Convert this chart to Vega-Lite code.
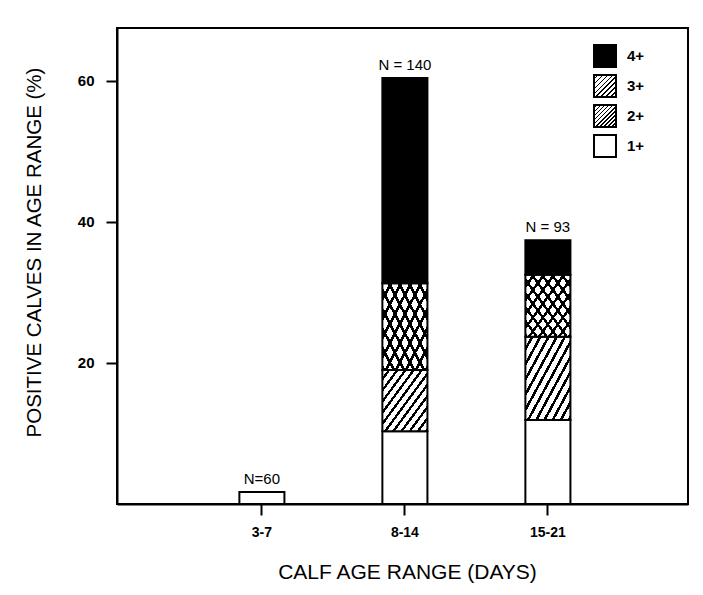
{
  "$schema": "https://vega.github.io/schema/vega-lite/v6.json",
  "autosize": "none",
  "width": 571,
  "height": 476,
  "padding": {"left": 117, "top": 28, "right": 15, "bottom": 91},
  "background": "white",
  "config": {
    "font": "Liberation Sans",
    "view": {"stroke": "black", "strokeWidth": 2},
    "axis": {"grid": false, "domainColor": "black", "domainWidth": 2, "tickColor": "black", "tickWidth": 2, "labelColor": "black", "titleColor": "black"}
  },
  "data": {
    "values": [
      {"age": "3-7", "level": "1+", "k": 1, "pct": 1.7, "n": "N=60"},
      {"age": "8-14", "level": "1+", "k": 1, "pct": 10.3, "n": "N = 140"},
      {"age": "8-14", "level": "2+", "k": 2, "pct": 8.7, "n": "N = 140"},
      {"age": "8-14", "level": "3+", "k": 3, "pct": 12.3, "n": "N = 140"},
      {"age": "8-14", "level": "4+", "k": 4, "pct": 29.1, "n": "N = 140"},
      {"age": "15-21", "level": "1+", "k": 1, "pct": 11.9, "n": "N = 93"},
      {"age": "15-21", "level": "2+", "k": 2, "pct": 11.8, "n": "N = 93"},
      {"age": "15-21", "level": "3+", "k": 3, "pct": 8.8, "n": "N = 93"},
      {"age": "15-21", "level": "4+", "k": 4, "pct": 4.9, "n": "N = 93"}
    ]
  },
  "encoding": {
    "x": {
      "field": "age", "type": "nominal", "sort": ["3-7", "8-14", "15-21"],
      "scale": {"paddingInner": 0.685, "paddingOuter": 0.839, "align": 0.51},
      "axis": {
        "title": "CALF AGE RANGE (DAYS)", "labelAngle": 0, "labelFontSize": 14, "labelFontWeight": "bold",
        "tickSize": 11, "labelPadding": 10, "titleFontSize": 21, "titleFontWeight": "normal",
        "titleBaseline": "alphabetic", "titleY": 74, "titleX": 290
      }
    }
  },
  "layer": [
    {
      "mark": {"type": "bar", "stroke": "black", "strokeWidth": 2},
      "encoding": {
        "y": {
          "field": "pct", "type": "quantitative", "stack": "zero",
          "scale": {"domain": [0, 67.5], "nice": false, "zero": true},
          "axis": {
            "title": "POSITIVE CALVES IN AGE RANGE (%)", "values": [20, 40, 60], "tickSize": 11,
            "labelPadding": 12, "labelFontSize": 15, "labelFontWeight": "bold",
            "titleFontSize": 20.5, "titleFontWeight": "normal", "titleAngle": -90,
            "titleBaseline": "alphabetic", "titleAlign": "center", "titleX": -77, "titleY": 224
          }
        },
        "order": {"field": "k", "type": "quantitative", "sort": "ascending"},
        "fill": {
          "field": "level", "type": "nominal",
          "scale": {
            "domain": ["4+", "3+", "2+", "1+"],
            "range": [
              "black",
              {"expr": "{gradient:'linear',x1:0,y1:0,x2:1,y2:1,stops:[{offset:0,color:'white'},{offset:0.0778,color:'white'},{offset:0.0778,color:'black'},{offset:0.1111,color:'black'},{offset:0.1111,color:'white'},{offset:0.1889,color:'white'},{offset:0.1889,color:'black'},{offset:0.2222,color:'black'},{offset:0.2222,color:'white'},{offset:0.3,color:'white'},{offset:0.3,color:'black'},{offset:0.3333,color:'black'},{offset:0.3333,color:'white'},{offset:0.4111,color:'white'},{offset:0.4111,color:'black'},{offset:0.4444,color:'black'},{offset:0.4444,color:'white'},{offset:0.5222,color:'white'},{offset:0.5222,color:'black'},{offset:0.5556,color:'black'},{offset:0.5556,color:'white'},{offset:0.6333,color:'white'},{offset:0.6333,color:'black'},{offset:0.6667,color:'black'},{offset:0.6667,color:'white'},{offset:0.7444,color:'white'},{offset:0.7444,color:'black'},{offset:0.7778,color:'black'},{offset:0.7778,color:'white'},{offset:0.8556,color:'white'},{offset:0.8556,color:'black'},{offset:0.8889,color:'black'},{offset:0.8889,color:'white'},{offset:0.9667,color:'white'},{offset:0.9667,color:'black'},{offset:1,color:'black'}]}"},
              {"expr": "{gradient:'linear',x1:0,y1:0,x2:1,y2:1,stops:[{offset:0,color:'white'},{offset:0.0591,color:'white'},{offset:0.0591,color:'black'},{offset:0.0909,color:'black'},{offset:0.0909,color:'white'},{offset:0.15,color:'white'},{offset:0.15,color:'black'},{offset:0.1818,color:'black'},{offset:0.1818,color:'white'},{offset:0.2409,color:'white'},{offset:0.2409,color:'black'},{offset:0.2727,color:'black'},{offset:0.2727,color:'white'},{offset:0.3318,color:'white'},{offset:0.3318,color:'black'},{offset:0.3636,color:'black'},{offset:0.3636,color:'white'},{offset:0.4227,color:'white'},{offset:0.4227,color:'black'},{offset:0.4545,color:'black'},{offset:0.4545,color:'white'},{offset:0.5136,color:'white'},{offset:0.5136,color:'black'},{offset:0.5455,color:'black'},{offset:0.5455,color:'white'},{offset:0.6045,color:'white'},{offset:0.6045,color:'black'},{offset:0.6364,color:'black'},{offset:0.6364,color:'white'},{offset:0.6955,color:'white'},{offset:0.6955,color:'black'},{offset:0.7273,color:'black'},{offset:0.7273,color:'white'},{offset:0.7864,color:'white'},{offset:0.7864,color:'black'},{offset:0.8182,color:'black'},{offset:0.8182,color:'white'},{offset:0.8773,color:'white'},{offset:0.8773,color:'black'},{offset:0.9091,color:'black'},{offset:0.9091,color:'white'},{offset:0.9682,color:'white'},{offset:0.9682,color:'black'},{offset:1,color:'black'}]}"},
              "white"
            ]
          },
          "legend": {
            "orient": "none", "legendX": 476, "legendY": 16, "title": null,
            "symbolType": "square", "symbolSize": 484, "symbolStrokeColor": "black", "symbolStrokeWidth": 2,
            "labelFontSize": 15, "labelFontWeight": "bold", "labelColor": "black", "labelOffset": 10,
            "rowPadding": 0, "padding": 0
          }
        }
      }
    },
    {
      "mark": {"type": "bar", "strokeWidth": 0},
      "encoding": {
        "y": {"field": "pct", "type": "quantitative", "stack": "zero"},
        "order": {"field": "k", "type": "quantitative", "sort": "ascending"},
        "fill": {
          "condition": {"test": "datum.level === '3+'", "value": {"gradient": "linear", "x1": 1, "y1": 0, "x2": 0, "y2": 1, "stops": [
            {"offset": 0, "color": "rgba(255,255,255,0)"}, {"offset": 0.0778, "color": "rgba(255,255,255,0)"}, {"offset": 0.0778, "color": "black"},
            {"offset": 0.1111, "color": "black"}, {"offset": 0.1111, "color": "rgba(255,255,255,0)"}, {"offset": 0.1889, "color": "rgba(255,255,255,0)"}, {"offset": 0.1889, "color": "black"},
            {"offset": 0.2222, "color": "black"}, {"offset": 0.2222, "color": "rgba(255,255,255,0)"}, {"offset": 0.3, "color": "rgba(255,255,255,0)"}, {"offset": 0.3, "color": "black"},
            {"offset": 0.3333, "color": "black"}, {"offset": 0.3333, "color": "rgba(255,255,255,0)"}, {"offset": 0.4111, "color": "rgba(255,255,255,0)"}, {"offset": 0.4111, "color": "black"},
            {"offset": 0.4444, "color": "black"}, {"offset": 0.4444, "color": "rgba(255,255,255,0)"}, {"offset": 0.5222, "color": "rgba(255,255,255,0)"}, {"offset": 0.5222, "color": "black"},
            {"offset": 0.5556, "color": "black"}, {"offset": 0.5556, "color": "rgba(255,255,255,0)"}, {"offset": 0.6333, "color": "rgba(255,255,255,0)"}, {"offset": 0.6333, "color": "black"},
            {"offset": 0.6667, "color": "black"}, {"offset": 0.6667, "color": "rgba(255,255,255,0)"}, {"offset": 0.7444, "color": "rgba(255,255,255,0)"}, {"offset": 0.7444, "color": "black"},
            {"offset": 0.7778, "color": "black"}, {"offset": 0.7778, "color": "rgba(255,255,255,0)"}, {"offset": 0.8556, "color": "rgba(255,255,255,0)"}, {"offset": 0.8556, "color": "black"},
            {"offset": 0.8889, "color": "black"}, {"offset": 0.8889, "color": "rgba(255,255,255,0)"}, {"offset": 0.9667, "color": "rgba(255,255,255,0)"}, {"offset": 0.9667, "color": "black"},
            {"offset": 1, "color": "black"}
          ]}},
          "value": "transparent"
        }
      }
    },
    {
      "transform": [{"aggregate": [{"op": "sum", "field": "pct", "as": "total"}], "groupby": ["age", "n"]}],
      "mark": {"type": "text", "baseline": "alphabetic", "dy": -8, "fontSize": 15, "color": "black"},
      "encoding": {
        "y": {"field": "total", "type": "quantitative"},
        "text": {"field": "n", "type": "nominal"}
      }
    }
  ]
}
